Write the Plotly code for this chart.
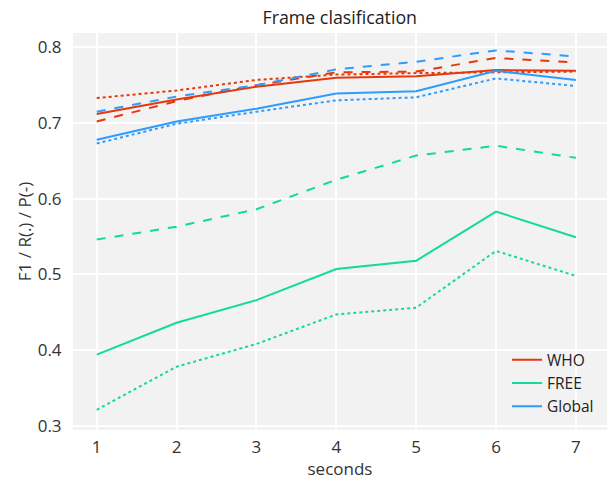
import plotly.graph_objects as go

seconds = [1, 2, 3, 4, 5, 6, 7]

who_f1 = [0.712, 0.731, 0.748, 0.760, 0.762, 0.770, 0.769]
who_r = [0.702, 0.729, 0.750, 0.767, 0.768, 0.786, 0.780]
who_p = [0.733, 0.743, 0.757, 0.764, 0.766, 0.767, 0.768]

free_f1 = [0.394, 0.436, 0.466, 0.507, 0.518, 0.583, 0.549]
free_r = [0.546, 0.563, 0.586, 0.625, 0.657, 0.670, 0.654]
free_p = [0.321, 0.378, 0.408, 0.447, 0.456, 0.531, 0.498]

glob_f1 = [0.678, 0.702, 0.719, 0.739, 0.742, 0.769, 0.757]
glob_r = [0.715, 0.735, 0.750, 0.771, 0.781, 0.796, 0.788]
glob_p = [0.673, 0.699, 0.715, 0.730, 0.734, 0.759, 0.749]

series = [
    ("WHO", "#e5380c", who_f1, who_r, who_p),
    ("FREE", "#12d9a0", free_f1, free_r, free_p),
    ("Global", "#2e9bff", glob_f1, glob_r, glob_p),
]

fig = go.Figure()
for name, color, f1, r, p in series:
    fig.add_trace(go.Scatter(x=seconds, y=f1, mode="lines", name=name,
                             line=dict(color=color, width=2)))
    fig.add_trace(go.Scatter(x=seconds, y=r, mode="lines", name=name + " R",
                             showlegend=False, line=dict(color=color, width=2, dash="dash")))
    fig.add_trace(go.Scatter(x=seconds, y=p, mode="lines", name=name + " P",
                             showlegend=False, line=dict(color=color, width=2, dash="dot")))

fig.update_layout(
    width=610, height=480,
    margin=dict(l=73, r=3, t=33, b=50),
    paper_bgcolor="white",
    plot_bgcolor="#f2f2f2",
    font=dict(family="Open Sans, Noto Sans, sans-serif", color="#333333", size=17),
    title=dict(text="Frame clasification", x=0.557, xanchor="center", xref="container",
               y=1 - 18 / 480, yref="container", yanchor="middle",
               font=dict(size=17.8, color="#222222")),
    legend=dict(x=0.985, y=0.017, xanchor="right", yanchor="bottom",
                bgcolor="rgba(0,0,0,0)", font=dict(size=15.5, color="#222222"),
                tracegroupgap=0),
    showlegend=True,
)
fig.update_xaxes(range=[0.703, 7.39], tickvals=seconds, showgrid=True, gridcolor="white",
                 gridwidth=1.5, zeroline=False,
                 title=dict(text="seconds", standoff=4, font=dict(size=17)),
                 ticks="outside", ticklen=2, tickcolor="rgba(0,0,0,0)",
                 tickfont=dict(size=17))
fig.update_yaxes(range=[0.2943, 0.819], tickvals=[0.3, 0.4, 0.5, 0.6, 0.7, 0.8],
                 tickformat=".1f", showgrid=True, gridcolor="white", gridwidth=1.5,
                 zeroline=False,
                 title=dict(text="F1 / R(.) / P(-)", standoff=1, font=dict(size=17)),
                 ticks="outside", ticklen=7, tickcolor="rgba(0,0,0,0)",
                 tickfont=dict(size=17))

fig.write_html("out.html", config={"displayModeBar": False},
               post_script="document.body.style.margin='0px';")
